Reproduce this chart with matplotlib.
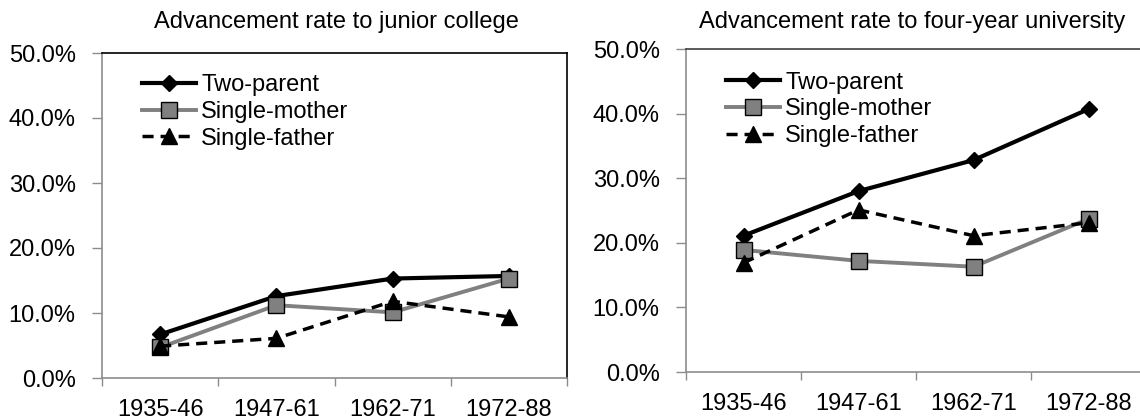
import matplotlib
matplotlib.use("Agg")
import matplotlib.pyplot as plt
from matplotlib.ticker import FixedLocator, FuncFormatter

plt.rcParams['font.family'] = ['Liberation Sans', 'DejaVu Sans']

categories = ['1935-46', '1947-61', '1962-71', '1972-88']
series_names = ['Two-parent', 'Single-mother', 'Single-father']

# advancement rates (%)
jc_two = [6.7, 12.6, 15.3, 15.7]
jc_mother = [4.7, 11.2, 10.1, 15.3]
jc_father = [4.9, 6.1, 11.8, 9.4]

univ_two = [21.1, 28.0, 32.8, 40.7]
univ_mother = [18.9, 17.2, 16.3, 23.7]
univ_father = [16.9, 25.1, 21.1, 23.1]

titles = ['Advancement rate to junior college',
          'Advancement rate to four-year university']

FS = 17
GRAY_AX = '#8c8c8c'

fig = plt.figure(figsize=(11.4, 4.19), dpi=100)
ax1 = fig.add_axes([102 / 1140, 41 / 419, 465 / 1140, 325 / 419])
ax2 = fig.add_axes([686 / 1140, 47 / 419, 460 / 1140, 323 / 419])


def draw(ax, two, mother, father, top_color, legend_xy):
    x = list(range(len(categories)))
    ax.plot(x, two, color='black', lw=3.0, marker='D', ms=8.5,
            mfc='black', mec='black', label=series_names[0], zorder=3)
    ax.plot(x, mother, color='#808080', lw=2.8, marker='s', ms=12,
            mfc='#808080', mec='black', mew=1.0, label=series_names[1], zorder=4)
    ax.plot(x, father, color='black', lw=2.5, ls=(0, (3.2, 2.0)), marker='^',
            ms=11, mfc='black', mec='black', label=series_names[2], zorder=5)

    ax.set_xlim(-0.5, len(categories) - 0.5)
    ax.set_ylim(0, 50)

    # category labels in the middle, tick marks on the boundaries
    ax.xaxis.set_major_locator(FixedLocator(x))
    ax.set_xticklabels(categories)
    ax.xaxis.set_minor_locator(FixedLocator([i - 0.5 for i in range(len(categories) + 1)]))
    ax.tick_params(axis='x', which='major', length=0, pad=15, labelsize=FS)
    ax.tick_params(axis='x', which='minor', length=6, color=GRAY_AX, width=1, direction='out')

    ax.set_yticks([0, 10, 20, 30, 40, 50])
    ax.yaxis.set_major_formatter(FuncFormatter(lambda v, p: f'{v:.1f}%'))
    ax.tick_params(axis='y', length=7, color=GRAY_AX, width=1, direction='out',
                   pad=12, labelsize=FS)

    for side in ('left', 'bottom'):
        ax.spines[side].set_color(GRAY_AX)
        ax.spines[side].set_linewidth(1.2)
    for side in ('top', 'right'):
        ax.spines[side].set_color(top_color)
        ax.spines[side].set_linewidth(1.2)

    ax.legend(loc='upper left', bbox_to_anchor=legend_xy, frameon=False,
              fontsize=FS, handlelength=2.3, handletextpad=0.2,
              labelspacing=0.2, borderpad=0, borderaxespad=0, numpoints=1)


draw(ax1, jc_two, jc_mother, jc_father, 'black', (0.086, 0.935))
draw(ax2, univ_two, univ_mother, univ_father, '#404040', (0.087, 0.93))

fig.text(336 / 1140, 1 - 22 / 419, titles[0], ha='center', va='center', fontsize=FS)
fig.text(912 / 1140, 1 - 22 / 419, titles[1], ha='center', va='center', fontsize=FS)

fig.savefig('out.png', dpi=100)
